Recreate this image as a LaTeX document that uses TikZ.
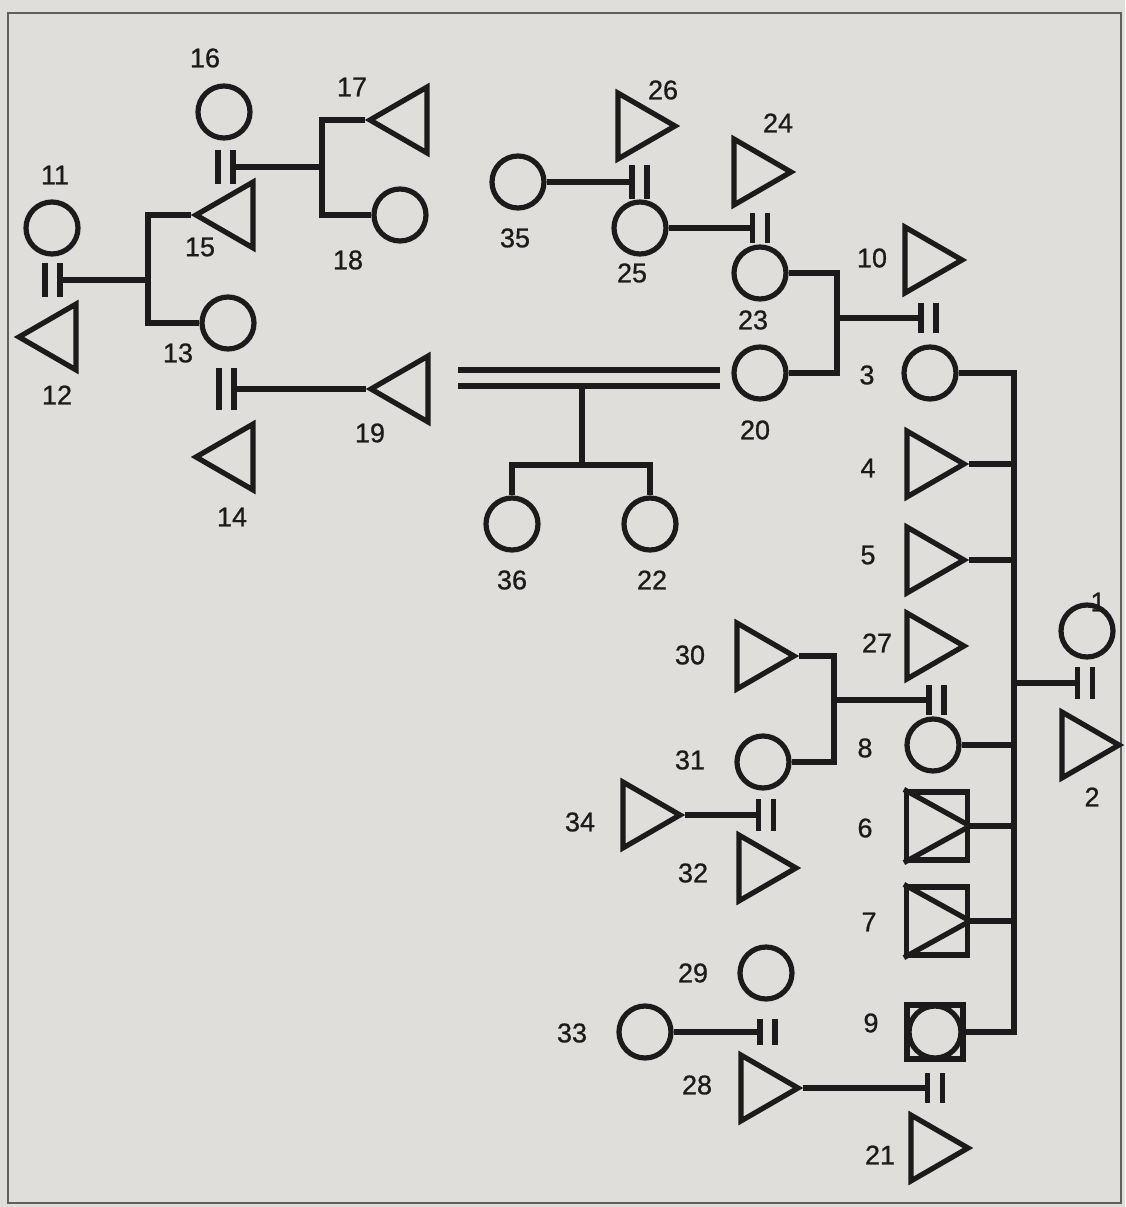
\documentclass[tikz,border=0pt]{standalone}
\usepackage{fontspec}
\setmainfont{Liberation Sans}
\newfontfamily\labfont{Liberation Sans}[FakeBold=0.8]
\usetikzlibrary{shapes.geometric}
\definecolor{paper}{RGB}{224,222,219}
\definecolor{ink}{RGB}{28,26,26}
\newcommand{\marrbars}[2]{%
  \draw[ln] ([xshift=-7.5pt,yshift=#2]#1) -- ([xshift=-7.5pt,yshift=-#2]#1)
            ([xshift=7.5pt,yshift=#2]#1) -- ([xshift=7.5pt,yshift=-#2]#1);}
\begin{document}
\begin{tikzpicture}[x=1pt,y=-1pt,
  ln/.style={draw=ink,line width=5.2pt},
  fem/.style={circle,draw=ink,line width=5.2pt,minimum size=52pt,inner sep=0pt},
  tri/.style={regular polygon,regular polygon sides=3,draw=ink,line width=5.2pt,minimum size=76pt,inner sep=0pt},
  mr/.style={tri,rotate=-90},
  ml/.style={tri,rotate=90},
  lab/.style={font=\labfont\fontsize{27}{29}\selectfont,text=ink,inner sep=0pt},
  bx/.style={rectangle,draw=ink,line width=5.2pt,minimum width=61pt,minimum height=68pt,inner sep=0pt}
]
\fill[paper] (0,0) rectangle (1125,1207);
\useasboundingbox (0,0) rectangle (1125,1207);
\draw[ink!70,line width=1.5pt] (8,13) rectangle (1121,1203);

% persons
\node[fem] (c16) at (224,112) {};
\node[ml]  (t17) at (408,120) {};
\node[fem] (c18) at (400,215) {};
\node[fem] (c11) at (52,228) {};
\node[ml]  (t15) at (234,215) {};
\node[ml]  (t12) at (57,337) {};
\node[fem] (c13) at (228,323) {};
\node[ml]  (t19) at (409,389) {};
\node[ml]  (t14) at (234,457) {};
\node[mr]  (t26) at (637,126) {};
\node[fem] (c35) at (518,182) {};
\node[fem] (c25) at (640,228) {};
\node[mr]  (t24) at (753,172) {};
\node[fem] (c23) at (760,273) {};
\node[fem] (c20) at (760,373) {};
\node[mr]  (t10) at (924,260) {};
\node[fem] (c3)  at (930,373) {};
\node[fem] (c36) at (512,524) {};
\node[fem] (c22) at (650,524) {};
\node[mr]  (t4)  at (926,464) {};
\node[mr]  (t5)  at (926,560) {};
\node[mr]  (t27) at (926,646) {};
\node[fem] (c1)  at (1087,631) {};
\node[mr]  (t2)  at (1081,745) {};
\node[mr]  (t30) at (756,656) {};
\node[fem] (c31) at (763,762) {};
\node[fem] (c8)  at (933,745) {};
\node[bx]  (b6)  at (937,826) {};
\node[mr]  (t34) at (642,815) {};
\node[mr]  (t32) at (758,868) {};
\node[bx]  (b7)  at (937,921) {};
\node[fem] (c29) at (766,973) {};
\node[fem] (c33) at (645,1032) {};
\node[bx,minimum width=56pt,minimum height=54pt] (b9) at (935,1032) {};
\node[fem,minimum size=52pt] (c9) at (b9.center) {};
\node[mr]  (t28) at (760,1088) {};
\node[mr]  (t21) at (930,1148) {};

\draw[ln,line join=bevel] (b6.north west) -- (b6.east) -- (b6.south west);
\draw[ln,line join=bevel] (b7.north west) -- (b7.east) -- (b7.south west);

% labels
\node[lab] (l16) at (205,58) {16};
\node[lab] (l17) at (352,87) {17};
\node[lab] (l11) at (55,175) {11};
\node[lab] (l15) at (200,247) {15};
\node[lab] (l18) at (348,260) {18};
\node[lab] (l12) at (57,395) {12};
\node[lab] (l13) at (178,353) {13};
\node[lab] (l19) at (370,433) {19};
\node[lab] (l14) at (232,517) {14};
\node[lab] (l26) at (663,90) {26};
\node[lab] (l24) at (778,123) {24};
\node[lab] (l35) at (515,238) {35};
\node[lab] (l25) at (632,273) {25};
\node[lab] (l10) at (872,258) {10};
\node[lab] (l23) at (753,320) {23};
\node[lab] (l3)  at (867,375) {3};
\node[lab] (l20) at (755,430) {20};
\node[lab] (l36) at (512,580) {36};
\node[lab] (l22) at (652,580) {22};
\node[lab] (l4)  at (868,468) {4};
\node[lab] (l5)  at (868,555) {5};
\node[lab] (l1)  at (1098,602) {1};
\node[lab] (l27) at (877,643) {27};
\node[lab] (l30) at (690,655) {30};
\node[lab] (l8)  at (865,748) {8};
\node[lab] (l31) at (690,760) {31};
\node[lab] (l2)  at (1092,797) {2};
\node[lab] (l34) at (580,822) {34};
\node[lab] (l6)  at (865,828) {6};
\node[lab] (l32) at (693,873) {32};
\node[lab] (l7)  at (869,922) {7};
\node[lab] (l29) at (693,973) {29};
\node[lab] (l9)  at (871,1023) {9};
\node[lab] (l33) at (572,1033) {33};
\node[lab] (l28) at (697,1085) {28};
\node[lab] (l21) at (880,1155) {21};

% marriage marks
\coordinate (m16) at (225.5,167);
\coordinate (m11) at (52.5,280);
\coordinate (m13) at (226.5,389);
\coordinate (m35) at (639.5,182);
\coordinate (m25) at (760,228);
\coordinate (m3)  at (928.5,318);
\coordinate (m8)  at (936.5,700);
\coordinate (m1)  at (1085,683);
\coordinate (m31) at (766,815);
\coordinate (m33) at (767.5,1032);
\coordinate (m28) at (935,1088);
\marrbars{m16}{17pt}
\marrbars{m11}{17pt}
\marrbars{m13}{21pt}
\marrbars{m35}{17pt}
\marrbars{m25}{15pt}
\marrbars{m3}{15pt}
\marrbars{m8}{15pt}
\marrbars{m1}{16pt}
\marrbars{m31}{16pt}
\marrbars{m33}{13pt}
\marrbars{m28}{15pt}

% junction columns
\coordinate (k1) at (322,0);
\coordinate (k2) at (148,0);
\coordinate (k3) at (837,0);
\coordinate (k6) at (1014,0);
\coordinate (k7) at (834,0);
\coordinate (k4) at (582,386);
\coordinate (k5) at (582,465);
\coordinate (d1) at (458,370);
\coordinate (d2) at (720,370);
\coordinate (d3) at (458,386);
\coordinate (d4) at (720,386);

% connectors
\draw[ln] (t17.corner 1) -| (k1 |- c18.west) -- (c18.west);
\draw[ln] (k1 |- m16) -- ([xshift=7.5pt]m16);
\draw[ln] (t15.corner 1) -| (k2 |- c13.west) -- (c13.west);
\draw[ln] (k2 |- m11) -- ([xshift=7.5pt]m11);
\draw[ln] (t19.corner 1) -- ([xshift=7.5pt]m13);
\draw[ln] (c35.east) -- ([xshift=-7.5pt]m35);
\draw[ln] (c25.east) -- ([xshift=-7.5pt]m25);
\draw[ln] (c23.east) -| (k3 |- c20.east) -- (c20.east);
\draw[ln] (k3 |- m3) -- ([xshift=-7.5pt]m3);
\draw[ln] (d1) -- (d2);
\draw[ln] (d3) -- (d4);
\draw[ln] (k4) -- (k5);
\draw[ln] (c36.north) |- (k5) -| (c22.north);
\draw[ln] (c3.east) -| (k6 |- b9.east) -- (b9.east);
\draw[ln] (t4.corner 1) -- (k6 |- t4.corner 1);
\draw[ln] (t5.corner 1) -- (k6 |- t5.corner 1);
\draw[ln] (c8.east) -- (k6 |- c8.east);
\draw[ln] (b6.east) -- (k6 |- b6.east);
\draw[ln] (b7.east) -- (k6 |- b7.east);
\draw[ln] (k6 |- m1) -- ([xshift=-7.5pt]m1);
\draw[ln] (t30.corner 1) -| (k7 |- c31.east) -- (c31.east);
\draw[ln] (k7 |- m8) -- ([xshift=-7.5pt]m8);
\draw[ln] (t34.corner 1) -- ([xshift=-7.5pt]m31);
\draw[ln] (c33.east) -- ([xshift=-7.5pt]m33);
\draw[ln] (t28.corner 1) -- ([xshift=-7.5pt]m28);
\end{tikzpicture}
\end{document}
